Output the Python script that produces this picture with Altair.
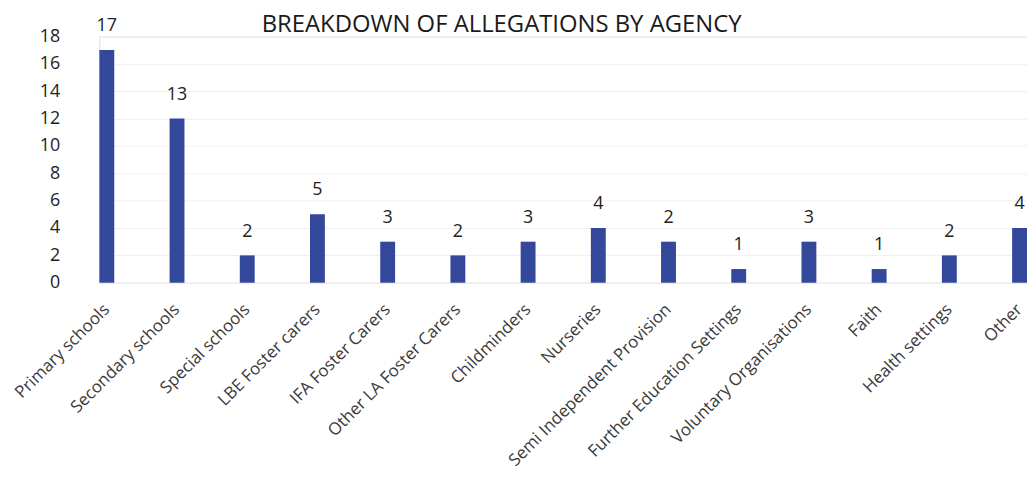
import altair as alt
import pandas as pd

categories = [
    "Primary schools", "Secondary schools", "Special schools", "LBE Foster carers",
    "IFA Foster Carers", "Other LA Foster Carers", "Childminders", "Nurseries",
    "Semi Independent Provision", "Further Education Settings", "Voluntary Organisations",
    "Faith", "Health settings", "Other",
]
bar_values = [17, 12, 2, 5, 3, 2, 3, 4, 3, 1, 3, 1, 2, 4]
label_values = [17, 13, 2, 5, 3, 2, 3, 4, 2, 1, 3, 1, 2, 4]
y_ticks = [0, 2, 4, 6, 8, 10, 12, 14, 16, 18]

df = pd.DataFrame({"agency": categories, "count": bar_values, "label": label_values})

FONT = "Open Sans"

x = alt.X(
    "agency:N", sort=categories, title=None,
    scale=alt.Scale(paddingInner=0.788, paddingOuter=0),
    axis=alt.Axis(labelAngle=-45, labelAlign="right", labelBaseline="middle",
                  labelPadding=24, labelFontSize=17, labelColor="#3a3a3a",
                  labelFont=FONT, ticks=False, domain=False, labelLimit=400,
                  labelOverlap=False),
)
y = alt.Y(
    "count:Q", title=None,
    scale=alt.Scale(domain=[0, 18], nice=False),
    axis=alt.Axis(values=y_ticks, labelFontSize=18, labelColor="#222222", labelFont=FONT,
                  labelPadding=40, ticks=False, domain=False, labelOverlap=False,
                  gridColor="#efefef", gridWidth=1),
)

bars = alt.Chart(df).mark_bar(color="#34489b").encode(x=x, y=y)
labels = alt.Chart(df).mark_text(
    baseline="bottom", dy=-15, fontSize=18, font=FONT, color="#222222"
).encode(x=x, y=y, text=alt.Text("label:Q"))

chart = (
    alt.layer(bars, labels)
    .properties(
        width=934, height=248,
        title=alt.TitleParams("BREAKDOWN OF ALLEGATIONS BY AGENCY", fontSize=24, font=FONT,
                              fontWeight="normal", color="#1a1a1a", dx=-62, dy=20, offset=0),
        autosize=alt.AutoSizeParams(type="none"),
        padding={"left": 92, "top": 27, "right": 0, "bottom": 200},
    )
    .configure_view(stroke=None)
    .configure_axis(labelOverlap=False)
    .configure(background="white")
)

chart.save("out.html", embed_options={"renderer": "svg", "actions": False})
